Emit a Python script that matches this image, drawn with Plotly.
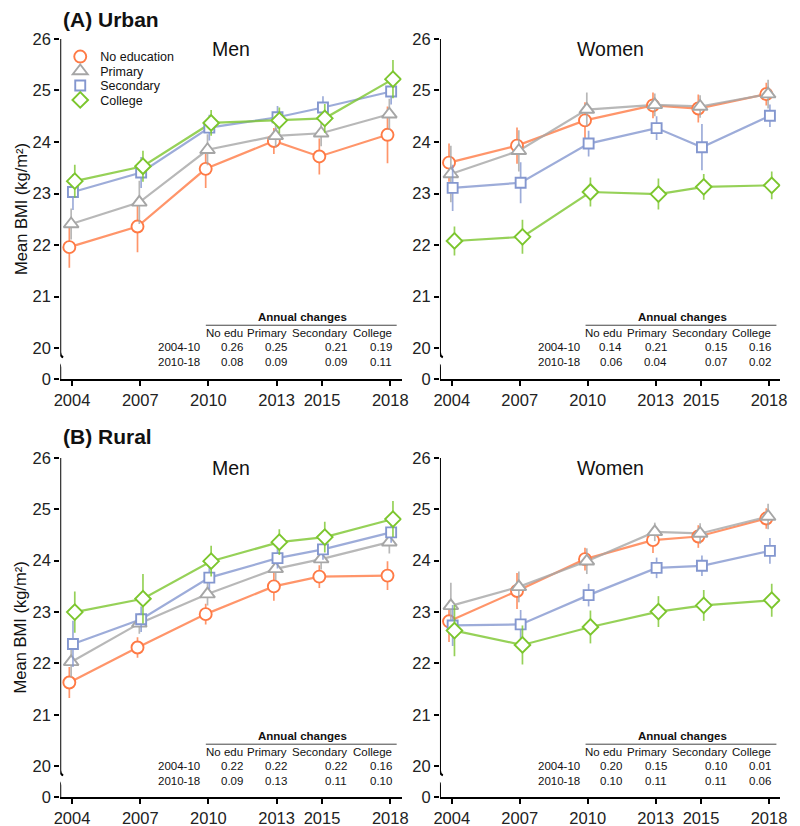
import plotly.graph_objects as go

# ---------------- data ----------------
years = [2004, 2007, 2010, 2013, 2015, 2018]
groups = ["No education", "Primary", "Secondary", "College"]
table_cols = ["No edu", "Primary", "Secondary", "College"]
table_rows = ["2004-10", "2010-18"]
y_tickvals = [19.4, 20, 21, 22, 23, 24, 25, 26]
y_ticktext = ["0", "20", "21", "22", "23", "24", "25", "26"]

# Urban men: mean BMI and CI half-width
um_noedu = [21.96, 22.36, 23.48, 24.02, 23.72, 24.14]
um_prim = [22.41, 22.83, 23.85, 24.12, 24.17, 24.54]
um_sec = [23.03, 23.41, 24.28, 24.48, 24.67, 24.98]
um_coll = [23.24, 23.53, 24.37, 24.42, 24.46, 25.22]
um_noedu_ci = [0.40, 0.50, 0.37, 0.25, 0.35, 0.55]
um_prim_ci = [0.30, 0.42, 0.30, 0.22, 0.25, 0.30]
um_sec_ci = [0.35, 0.30, 0.25, 0.22, 0.22, 0.25]
um_coll_ci = [0.32, 0.30, 0.25, 0.25, 0.28, 0.37]

# Urban women
uw_noedu = [23.60, 23.93, 24.42, 24.71, 24.65, 24.93]
uw_prim = [23.38, 23.83, 24.63, 24.72, 24.69, 24.93]
uw_sec = [23.11, 23.21, 23.97, 24.27, 23.90, 24.51]
uw_coll = [22.08, 22.16, 23.03, 22.99, 23.13, 23.16]
uw_noedu_ci = [0.37, 0.35, 0.35, 0.25, 0.27, 0.22]
uw_prim_ci = [0.55, 0.40, 0.33, 0.22, 0.22, 0.28]
uw_sec_ci = [0.45, 0.40, 0.25, 0.23, 0.45, 0.22]
uw_coll_ci = [0.28, 0.33, 0.28, 0.30, 0.25, 0.27]

# Rural men
rm_noedu = [21.63, 22.31, 22.96, 23.50, 23.69, 23.71]
rm_prim = [22.03, 22.78, 23.35, 23.84, 24.03, 24.36]
rm_sec = [22.38, 22.86, 23.67, 24.05, 24.22, 24.55]
rm_coll = [23.00, 23.26, 23.99, 24.36, 24.46, 24.81]
rm_noedu_ci = [0.30, 0.20, 0.20, 0.28, 0.22, 0.28]
rm_prim_ci = [0.30, 0.20, 0.22, 0.22, 0.20, 0.22]
rm_sec_ci = [0.45, 0.25, 0.22, 0.20, 0.20, 0.20]
rm_coll_ci = [0.40, 0.48, 0.30, 0.25, 0.30, 0.35]

# Rural women
rw_noedu = [22.82, 23.41, 24.03, 24.40, 24.47, 24.82]
rw_prim = [23.12, 23.49, 23.99, 24.56, 24.53, 24.86]
rw_sec = [22.74, 22.76, 23.33, 23.86, 23.90, 24.19]
rw_coll = [22.64, 22.36, 22.71, 23.01, 23.13, 23.23]
rw_noedu_ci = [0.40, 0.35, 0.22, 0.25, 0.22, 0.20]
rw_prim_ci = [0.45, 0.30, 0.25, 0.18, 0.20, 0.25]
rw_sec_ci = [0.40, 0.28, 0.22, 0.20, 0.20, 0.25]
rw_coll_ci = [0.50, 0.38, 0.32, 0.30, 0.30, 0.32]

# Annual changes tables: [2004-10, 2010-18] per education group
um_change_noedu, um_change_prim, um_change_sec, um_change_coll = [0.26, 0.08], [0.25, 0.09], [0.21, 0.09], [0.19, 0.11]
uw_change_noedu, uw_change_prim, uw_change_sec, uw_change_coll = [0.14, 0.06], [0.21, 0.04], [0.15, 0.07], [0.16, 0.02]
rm_change_noedu, rm_change_prim, rm_change_sec, rm_change_coll = [0.22, 0.09], [0.22, 0.13], [0.22, 0.11], [0.16, 0.10]
rw_change_noedu, rw_change_prim, rw_change_sec, rw_change_coll = [0.20, 0.10], [0.15, 0.11], [0.10, 0.11], [0.01, 0.06]

# ---------------- styling ----------------
W, H = 800, 826
FONT = "Liberation Sans, Arial, Helvetica, sans-serif"
marker_colors = ["#FF7A45", "#A6A6A6", "#8497CF", "#7CC62E"]
line_colors = ["rgba(255,122,69,0.8)", "rgba(166,166,166,0.8)",
               "rgba(132,151,207,0.8)", "rgba(124,198,46,0.8)"]
symbols = ["circle", "triangle-up", "square", "diamond"]
msizes = [12, 13, 10, 12]
dodge = [-0.12, -0.04, 0.04, 0.12]
legend_ids = ["legend", "legend2", "legend3", "legend4"]
legend_rows_px = [57, 71.5, 86, 100.5]
XR = [2003.48, 2018.5]
YR = [19.4, 26]


# map screen pixels to paper fractions (page offset 8px, plot area 800x810 starting at y=16)
def fx(p):
    return (p - 8) / 800


def fy(p):
    return 1 - (p - 16) / 810


panels = [
    dict(n="", L=55, R=402, T=38, B=379, sub="Men",
         means=[um_noedu, um_prim, um_sec, um_coll],
         cis=[um_noedu_ci, um_prim_ci, um_sec_ci, um_coll_ci],
         table=[um_change_noedu, um_change_prim, um_change_sec, um_change_coll]),
    dict(n="2", L=441, R=787, T=38, B=379, sub="Women",
         means=[uw_noedu, uw_prim, uw_sec, uw_coll],
         cis=[uw_noedu_ci, uw_prim_ci, uw_sec_ci, uw_coll_ci],
         table=[uw_change_noedu, uw_change_prim, uw_change_sec, uw_change_coll]),
    dict(n="3", L=55, R=402, T=458, B=798, sub="Men",
         means=[rm_noedu, rm_prim, rm_sec, rm_coll],
         cis=[rm_noedu_ci, rm_prim_ci, rm_sec_ci, rm_coll_ci],
         table=[rm_change_noedu, rm_change_prim, rm_change_sec, rm_change_coll]),
    dict(n="4", L=441, R=787, T=458, B=798, sub="Women",
         means=[rw_noedu, rw_prim, rw_sec, rw_coll],
         cis=[rw_noedu_ci, rw_prim_ci, rw_sec_ci, rw_coll_ci],
         table=[rw_change_noedu, rw_change_prim, rw_change_sec, rw_change_coll]),
]

fig = go.Figure()
layout = dict(
    width=W, height=H, margin=dict(l=0, r=0, t=0, b=0),
    plot_bgcolor="white", paper_bgcolor="white",
    font=dict(family=FONT, color="#111"),
    showlegend=True,
)
# one small legend per education group so the rows sit as tightly as in the original
for gi, lid in enumerate(legend_ids):
    layout[lid] = dict(x=fx(55), y=fy(legend_rows_px[gi] - 16), xanchor="left", yanchor="top",
                       bgcolor="rgba(0,0,0,0)", font=dict(size=12.5, family=FONT, color="#111"),
                       tracegroupgap=0, itemclick=False, itemdoubleclick=False)

annotations = []
shapes = []

for pi, p in enumerate(panels):
    xa, ya = "x" + p["n"], "y" + p["n"]
    for gi in range(4):
        xs = [yr + dodge[gi] for yr in years]
        fig.add_trace(go.Scatter(
            x=xs, y=p["means"][gi], mode="lines", xaxis=xa, yaxis=ya,
            line=dict(color=line_colors[gi], width=2.2),
            showlegend=False, hoverinfo="skip"))
    for gi in range(4):
        xs = [yr + dodge[gi] for yr in years]
        fig.add_trace(go.Scatter(
            x=xs, y=p["means"][gi], mode="markers", xaxis=xa, yaxis=ya,
            name=groups[gi], legendgroup=groups[gi], showlegend=(pi == 0),
            legend=legend_ids[gi],
            marker=dict(symbol=symbols[gi], size=msizes[gi], color="white",
                        line=dict(color=marker_colors[gi], width=1.9)),
            error_y=dict(type="data", array=p["cis"][gi], symmetric=True,
                         width=0, thickness=1.7, color=line_colors[gi])))

    layout["xaxis" + p["n"]] = dict(
        domain=[fx(p["L"]), fx(p["R"])], range=XR, anchor=ya,
        tickvals=years, ticks="outside", ticklen=5, tickwidth=1.5,
        tickcolor="black", showline=True, linewidth=2, linecolor="black",
        showgrid=False, zeroline=False,
        tickfont=dict(size=16.5, family=FONT, color="#222"))
    layout["yaxis" + p["n"]] = dict(
        domain=[fy(p["B"]), fy(p["T"])], range=YR, anchor=xa,
        tickvals=y_tickvals, ticktext=y_ticktext, ticks="outside",
        ticklen=5, tickwidth=1.5, tickcolor="black", showline=False,
        showgrid=False, zeroline=False,
        tickfont=dict(size=16.5, family=FONT, color="#222"))

    # broken y-axis line
    xl = XR[0]
    dxp = (XR[1] - XR[0]) / (p["R"] - p["L"])
    dyp = (YR[1] - YR[0]) / (p["B"] - p["T"])
    shapes.append(dict(
        type="path", xref=xa, yref=ya,
        path=(f"M {xl},{YR[1]} L {xl},{19.92} "
              f"Q {xl},{19.92 - 4 * dyp} {xl + 3 * dxp},{19.92 - 5 * dyp}"),
        line=dict(color="black", width=2)))
    shapes.append(dict(
        type="path", xref=xa, yref=ya,
        path=(f"M {xl - 3 * dxp},{19.72} "
              f"Q {xl},{19.72 - 1 * dyp} {xl},{19.72 - 5 * dyp} L {xl},{YR[0]}"),
        line=dict(color="black", width=2)))

    # subtitle
    annotations.append(dict(
        text=p["sub"], x=fx((p["L"] + p["R"]) / 2), y=fy(p["T"] + 10),
        xref="paper", yref="paper", xanchor="center", yanchor="middle",
        showarrow=False, font=dict(size=19.5, family=FONT, color="#111")))

    # annual changes table
    L, T = p["L"], p["T"]
    annotations.append(dict(
        text="<b>Annual changes</b>", x=fx(L + 246.5), y=fy(T + 279),
        xref="paper", yref="paper", xanchor="center", yanchor="middle",
        showarrow=False, font=dict(size=11.5, family=FONT, color="#111")))
    shapes.append(dict(
        type="line", xref="paper", yref="paper",
        x0=fx(L + 148), x1=fx(L + 342), y0=fy(T + 287), y1=fy(T + 287),
        line=dict(color="#444", width=1)))
    col_right = [L + 187.5, L + 232.5, L + 294, L + 339]
    for ci, cname in enumerate(table_cols):
        annotations.append(dict(
            text=cname, x=fx(col_right[ci]), y=fy(T + 295),
            xref="paper", yref="paper", xanchor="right", yanchor="middle",
            showarrow=False, font=dict(size=11.5, family=FONT, color="#111")))
    row_y = [T + 309, T + 324]
    for ri, rname in enumerate(table_rows):
        annotations.append(dict(
            text=rname, x=fx(L + 144), y=fy(row_y[ri]),
            xref="paper", yref="paper", xanchor="right", yanchor="middle",
            showarrow=False, font=dict(size=11.5, family=FONT, color="#111")))
        for ci in range(4):
            annotations.append(dict(
                text=f"{p['table'][ci][ri]:.2f}", x=fx(col_right[ci]), y=fy(row_y[ri]),
                xref="paper", yref="paper", xanchor="right", yanchor="middle",
                showarrow=False, font=dict(size=11.5, family=FONT, color="#111")))

# panel titles
for txt, ypx in [("<b>(A) Urban</b>", 19), ("<b>(B) Rural</b>", 437)]:
    annotations.append(dict(
        text=txt, x=fx(56), y=fy(ypx), xref="paper", yref="paper",
        xanchor="left", yanchor="middle", showarrow=False,
        font=dict(size=21, family=FONT, color="#111")))

# y-axis titles
for ypx in [208.5, 628]:
    annotations.append(dict(
        text="Mean BMI (kg/m²)", x=fx(15), y=fy(ypx), xref="paper", yref="paper",
        xanchor="center", yanchor="middle", textangle=-90, showarrow=False,
        font=dict(size=16.5, family=FONT, color="#111")))

layout["annotations"] = annotations
layout["shapes"] = shapes
fig.update_layout(**layout)
fig.write_html("out.html")
